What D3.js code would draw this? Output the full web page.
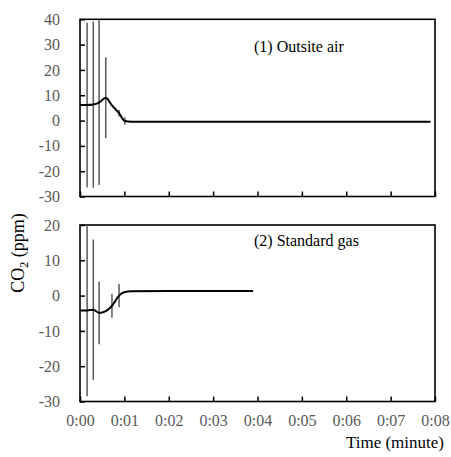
<!DOCTYPE html>
<head>
    <script src="https://d3js.org/d3.v7.js" charset="utf-8"></script>
    <style type="text/css">
        body {
            margin: 0;
            background-color: white;
        }
    </style>
</head>

<body>
    <svg id="main"></svg>
    <script>
        // time in minutes, CO2 difference in ppm, half error bar length
        const topTime = [0, 0.16, 0.30, 0.43, 0.58, 0.72, 0.88, 1.01, 1.15, 2, 4, 6, 7.9]
        const topCO2 = [6.1, 6.1, 6.3, 7.1, 9.0, 6.0, 2.9, -0.2, -0.5, -0.5, -0.5, -0.5, -0.5]
        const topErr = [0, 32.5, 32.8, 32.6, 16.0, 0, 1.3, 1.5, 0, 0, 0, 0, 0]

        const botTime = [0, 0.16, 0.30, 0.43, 0.58, 0.72, 0.88, 1.01, 1.15, 2, 3, 3.9]
        const botCO2 = [-4.2, -4.2, -4.0, -4.9, -4.4, -2.9, 0.0, 1.0, 1.2, 1.3, 1.3, 1.3]
        const botErr = [0, 24.3, 19.9, 8.9, 0, 3.4, 3.3, 0, 0, 0, 0, 0]

        const xTicks = [0, 1, 2, 3, 4, 5, 6, 7, 8]
        const topTicks = [-30, -20, -10, 0, 10, 20, 30, 40]
        const botTicks = [-30, -20, -10, 0, 10, 20]

        const serif = "'Liberation Serif', 'Times New Roman', serif"

        let width = 451,
            height = 457

        let svg1 = d3.select("#main")
            .attr("width", width)
            .attr("height", height)

        let x = d3.scaleLinear().domain([0, 8]).range([80, 435])

        function styleTicks(axisG) {
            axisG.attr("font-family", serif).attr("font-size", 16)
            axisG.select(".domain").remove()
            axisG.selectAll("line").attr("stroke", "black").attr("stroke-width", 1.5)
            axisG.selectAll("text").attr("fill", "#595959")
        }

        function drawPanel(time, co2, err, yDomain, yRange, ticks, label, labelY, showXLabels, clipId) {
            let y = d3.scaleLinear().domain(yDomain).range(yRange)
            let g = svg1.append("g")

            g.append("clipPath").attr("id", clipId)
                .append("rect")
                .attr("x", x(0)).attr("y", y(yDomain[1]))
                .attr("width", x(8) - x(0)).attr("height", y(yDomain[0]) - y(yDomain[1]))

            // y axis, ticks pointing inside
            let yAxis = g.append("g")
                .attr("transform", "translate(" + x(0) + ",0)")
                .call(d3.axisLeft(y).tickValues(ticks).tickSizeInner(-5).tickSizeOuter(0).tickPadding(20)
                    .tickFormat(d => String(d)))
            styleTicks(yAxis)

            // x axis at bottom
            let xAxis = g.append("g")
                .attr("transform", "translate(0," + y(yDomain[0]) + ")")
                .call(d3.axisBottom(x).tickValues(xTicks).tickSizeInner(-5).tickSizeOuter(0).tickPadding(13)
                    .tickFormat(d => "0:0" + d))
            styleTicks(xAxis)
            if (!showXLabels) xAxis.selectAll("text").remove()

            // frame
            g.append("rect")
                .attr("x", x(0)).attr("y", y(yDomain[1]))
                .attr("width", x(8) - x(0)).attr("height", y(yDomain[0]) - y(yDomain[1]))
                .attr("fill", "none")
                .attr("stroke", "black")
                .attr("stroke-width", 1.6)

            let pts = time.map((t, i) => ({ t: t, v: co2[i], e: err[i] }))

            // error bars
            g.append("g").attr("clip-path", "url(#" + clipId + ")")
                .selectAll("line")
                .data(pts.filter(d => d.e > 0))
                .enter()
                .append("line")
                .attr("x1", d => x(d.t)).attr("x2", d => x(d.t))
                .attr("y1", d => y(d.v + d.e)).attr("y2", d => y(d.v - d.e))
                .attr("stroke", "#595959")
                .attr("stroke-width", 1.5)

            let line = d3.line()
                .x(d => x(d.t))
                .y(d => y(d.v))
                .curve(d3.curveMonotoneX)

            g.append("path")
                .datum(pts)
                .attr("d", line)
                .attr("fill", "none")
                .attr("stroke", "black")
                .attr("stroke-width", 2)

            g.append("text")
                .attr("x", 254)
                .attr("y", labelY)
                .attr("font-family", serif)
                .attr("font-size", 16)
                .attr("fill", "black")
                .text(label)
        }

        drawPanel(topTime, topCO2, topErr, [-30, 40], [196.5, 19.3], topTicks, "(1) Outsite air", 52, false, "clipTop")
        drawPanel(botTime, botCO2, botErr, [-30, 20], [401.5, 225], botTicks, "(2) Standard gas", 246, true, "clipBot")

        // y axis title
        let yTitle = svg1.append("text")
            .attr("transform", "translate(24,253) rotate(-90)")
            .attr("text-anchor", "middle")
            .attr("font-family", serif)
            .attr("font-size", 18)
            .attr("fill", "black")
        yTitle.append("tspan").text("CO")
        yTitle.append("tspan").attr("font-size", 12).attr("dy", 4).text("2")
        yTitle.append("tspan").attr("dy", -4).text(" (ppm)")

        svg1.append("text")
            .attr("x", 444)
            .attr("y", 448)
            .attr("text-anchor", "end")
            .attr("font-family", serif)
            .attr("font-size", 17)
            .attr("fill", "black")
            .text("Time (minute)")
    </script>
</body>
